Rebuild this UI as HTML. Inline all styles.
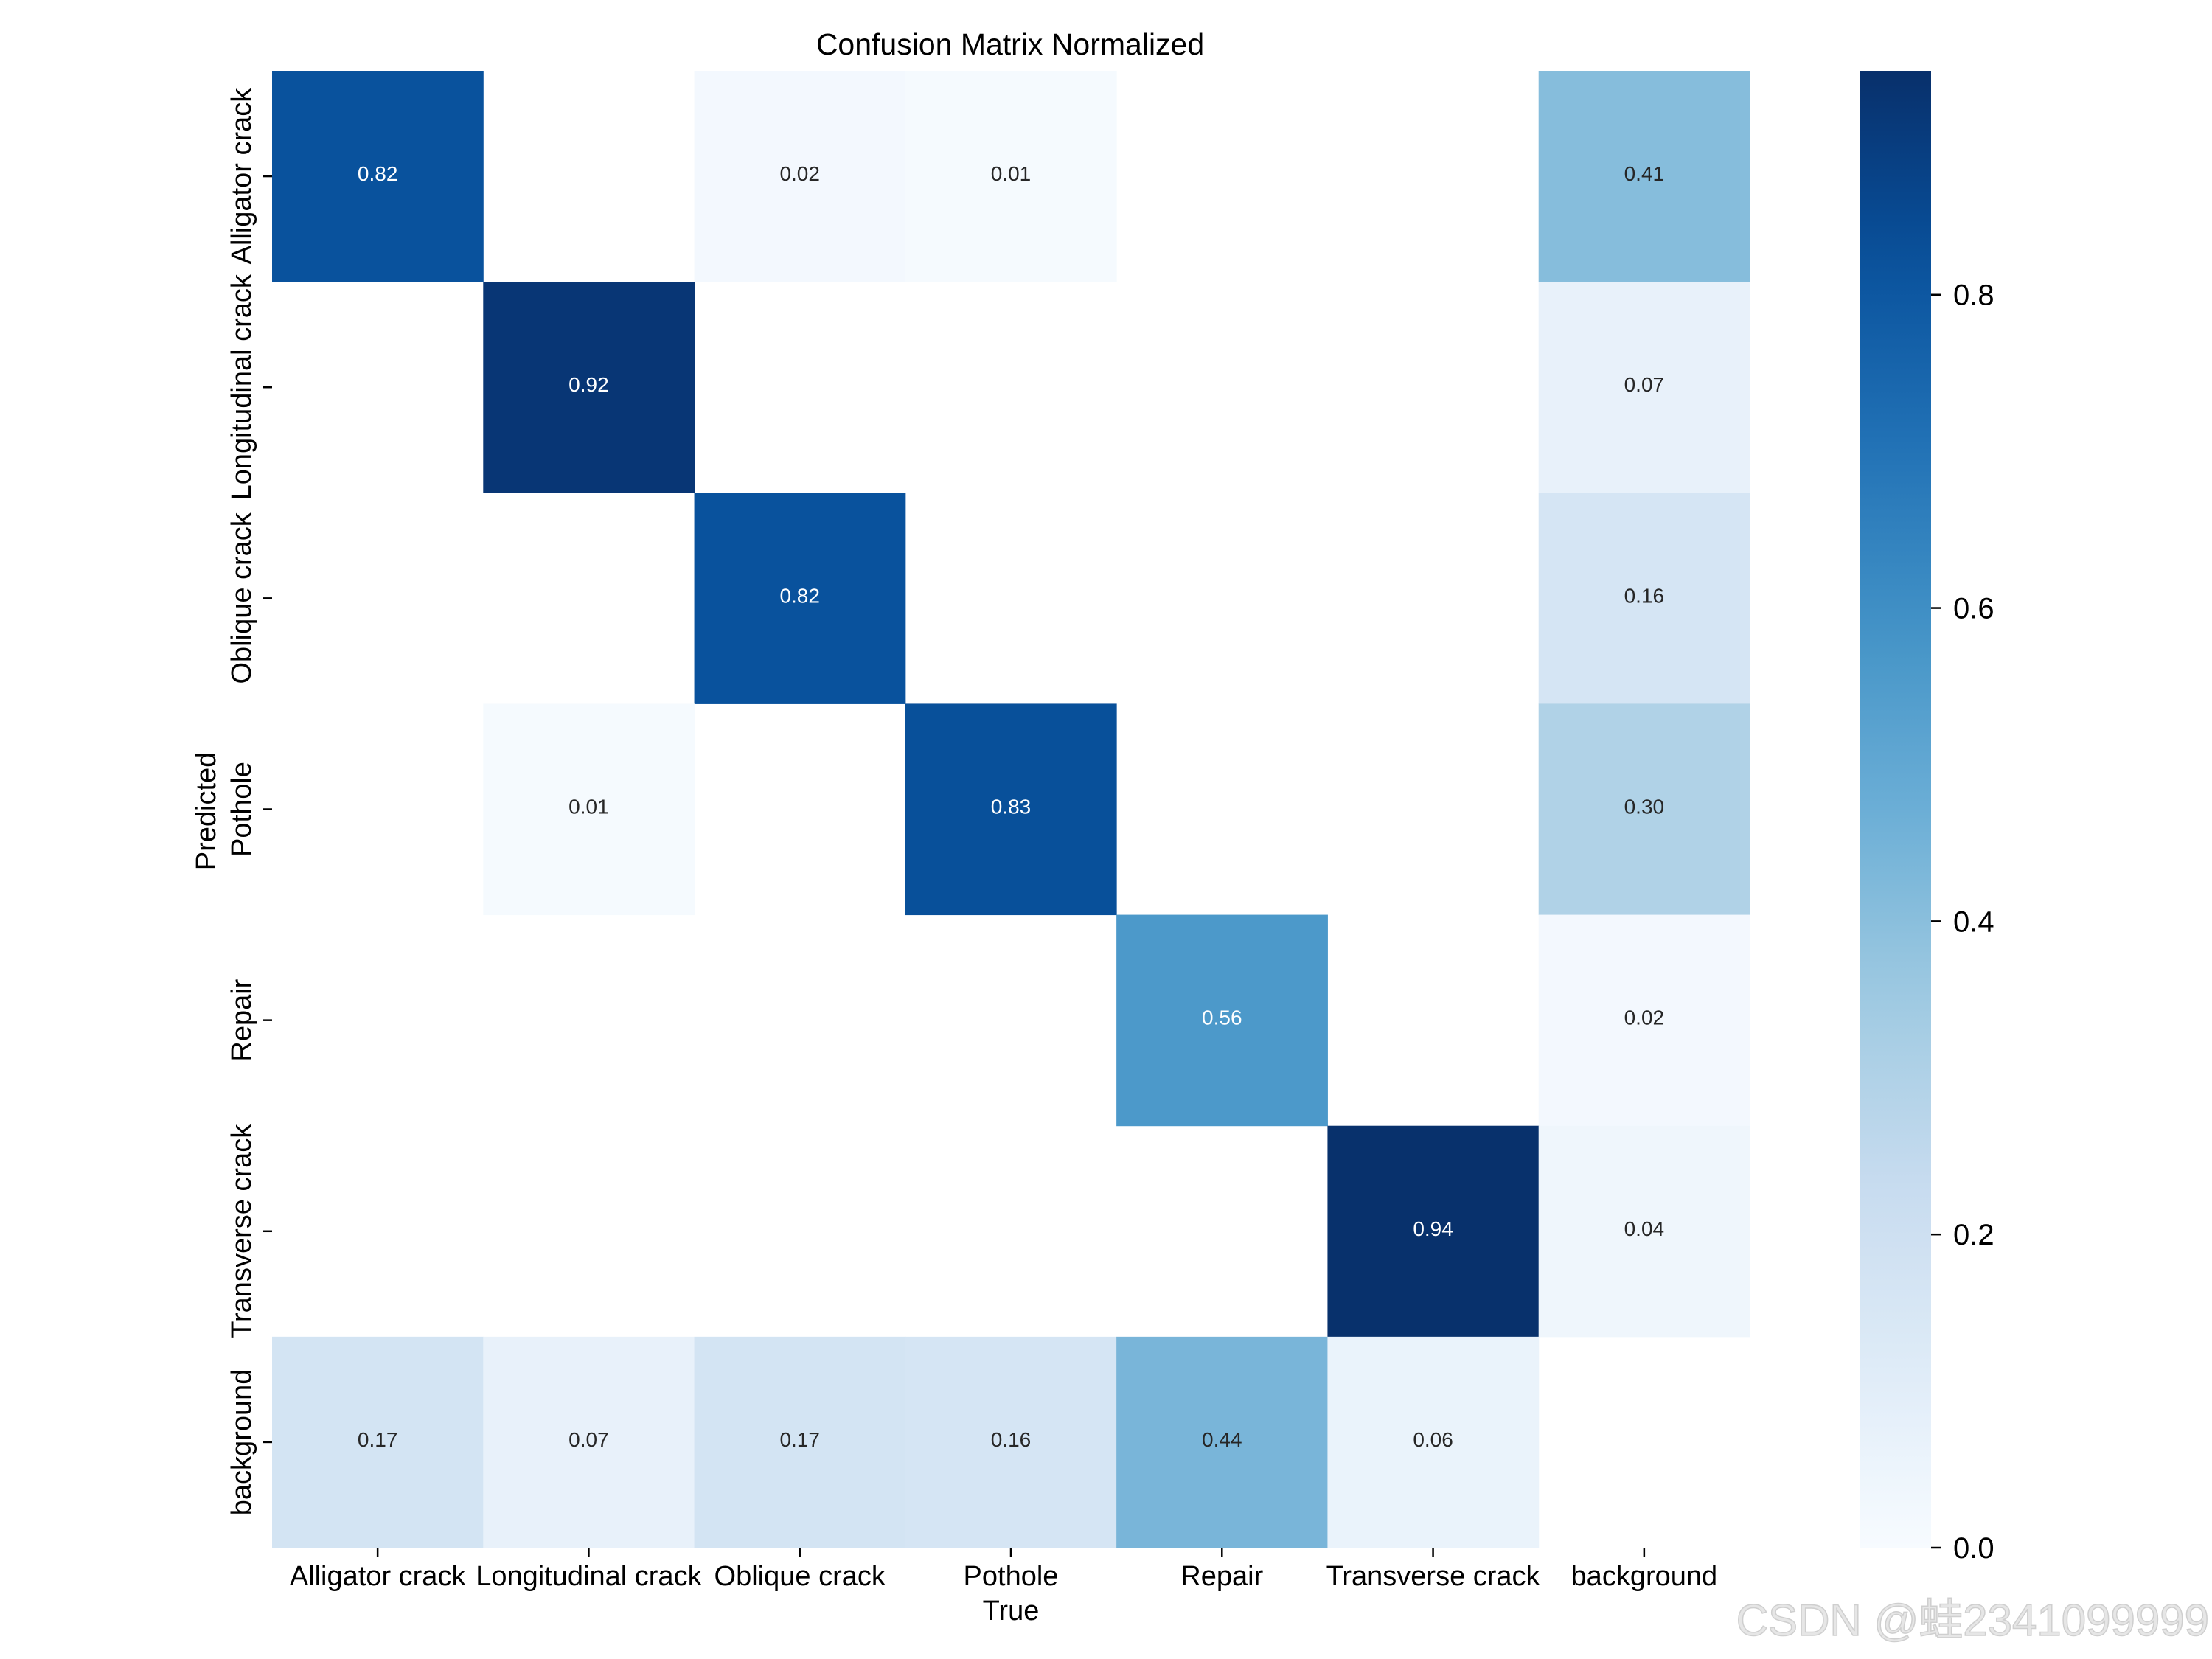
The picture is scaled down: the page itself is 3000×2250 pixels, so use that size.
<!DOCTYPE html>
<html><head><meta charset="utf-8">
<style>
html,body{margin:0;padding:0;background:#fff;}
svg{display:block;font-family:"Liberation Sans","Noto Sans CJK SC",sans-serif;}
</style></head>
<body>
<svg id="chart" width="3000" height="2250" viewBox="0 0 3000 2250" xmlns="http://www.w3.org/2000/svg">
<defs>
<linearGradient id="cbgrad" x1="0" y1="1" x2="0" y2="0"></linearGradient>
</defs>
<rect width="3000" height="2250" fill="#fff"/>
<text x="1370" y="74" font-size="41" text-anchor="middle">Confusion Matrix Normalized</text>
<g id="cells"></g>
<g id="xaxis"></g>
<g id="yaxis"></g>
<g id="cbar"></g>
<text x="1371" y="2197" font-size="38" text-anchor="middle">True</text>
<text transform="translate(292,1100) rotate(-90)" font-size="38" text-anchor="middle">Predicted</text>
<text x="2996" y="2218" font-size="60" text-anchor="end" fill="#e6e6e6" stroke="#cfcfcf" stroke-width="1.5">CSDN @蛙2341099999</text>
</svg>
<script>
const classes = ["Alligator crack","Longitudinal crack","Oblique crack","Pothole","Repair","Transverse crack","background"];
const row0 = [0.82,0,0.02,0.01,0,0,0.41];
const row1 = [0,0.92,0,0,0,0,0.07];
const row2 = [0,0,0.82,0,0,0,0.16];
const row3 = [0,0.01,0,0.83,0,0,0.30];
const row4 = [0,0,0,0,0.56,0,0.02];
const row5 = [0,0,0,0,0,0.94,0.04];
const row6 = [0.17,0.07,0.17,0.16,0.44,0.06,0];
const matrix = [row0,row1,row2,row3,row4,row5,row6];
const cbTicks = [0.0,0.2,0.4,0.6,0.8];
const vmax = 0.943;

const NS = "http://www.w3.org/2000/svg";
const L = 369, T = 96, R = 2373, B = 2099;
const n = classes.length;
const cw = (R - L) / n, ch = (B - T) / n;
const xs = i => L + i * cw;
const ys = j => T + j * ch;
const CBL = 2522, CBR = 2619;
const cy = v => B - (v / vmax) * (B - T);

const stops = ["#f7fbff","#deebf7","#c6dbef","#9ecae1","#6baed6","#4292c6","#2171b5","#08519c","#08306b"];
function hex(c){return [1,3,5].map(k=>parseInt(c.substr(k,2),16));}
function blues(t){
  t=Math.max(0,Math.min(1,t));
  const p=t*(stops.length-1), i=Math.min(Math.floor(p),stops.length-2), f=p-i;
  const a=hex(stops[i]), b=hex(stops[i+1]);
  return "rgb("+a.map((v,k)=>Math.round(v+(b[k]-v)*f)).join(",")+")";
}
function mk(tag, attrs, parent){
  const e=document.createElementNS(NS,tag);
  for(const k in attrs) e.setAttribute(k,attrs[k]);
  parent.appendChild(e); return e;
}
const cells=document.getElementById("cells");
matrix.forEach((row,j)=>row.forEach((v,i)=>{
  if(v<0.005) return;
  const r=mk("rect",{x:xs(i),y:ys(j),width:cw+0.5,height:ch+0.5,fill:blues(v/vmax)},cells);
  
  
  const t=mk("text",{x:xs(i)+cw/2,y:ys(j)+ch/2+6,"font-size":28,"text-anchor":"middle",fill:(v/vmax>0.55?"#fff":"#262626")},cells);
  t.textContent=v.toFixed(2);
  
  
}));
const xa=document.getElementById("xaxis");
classes.forEach((c,i)=>{
  const x=xs(i)+cw/2;
  const tk=mk("line",{x1:x,x2:x,y1:B,y2:B+12,stroke:"#000","stroke-width":2.5},xa);
  
  
  const t=mk("text",{x:x,y:2150,"font-size":38,"text-anchor":"middle"},xa);
  t.textContent=c;
  
  
});
const ya=document.getElementById("yaxis");
classes.forEach((c,j)=>{
  const y=ys(j)+ch/2;
  const tk=mk("line",{x1:L-12,x2:L,y1:y,y2:y,stroke:"#000","stroke-width":2.5},ya);
  
  
  const t=mk("text",{transform:"translate(340,"+y+") rotate(-90)","font-size":38,"text-anchor":"middle"},ya);
  t.textContent=c;
  
  
});
const g=document.getElementById("cbgrad");
for(let k=0;k<=20;k++){ mk("stop",{offset:(k/20),"stop-color":blues(k/20)},g); }
const cb=document.getElementById("cbar");
const cr=mk("rect",{x:CBL,y:T,width:CBR-CBL,height:B-T,fill:"url(#cbgrad)"},cb);


cbTicks.forEach(v=>{
  const y=cy(v);
  const tk=mk("line",{x1:CBR,x2:CBR+13,y1:y,y2:y,stroke:"#000","stroke-width":2.5},cb);
  
  
  const t=mk("text",{x:CBR+30,y:y+14,"font-size":40},cb);
  t.textContent=v.toFixed(1);
  
  
});
</script>
</body></html>
